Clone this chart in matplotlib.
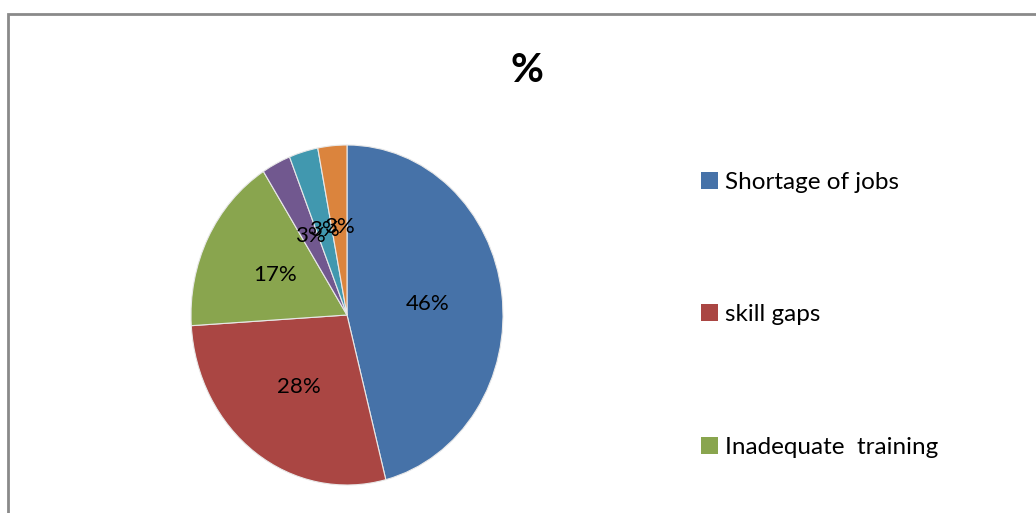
import matplotlib
matplotlib.use('Agg')
import matplotlib.pyplot as plt
from matplotlib.patches import Rectangle, Patch

plt.rcParams['font.family'] = ['Lato', 'DejaVu Sans']

# Causes of unemployment, share of respondents (%)
categories = ['Shortage of jobs', 'skill gaps', 'Inadequate  training', '', '', '']
shares = [46, 28, 17, 3, 3, 3]
colors = ['#4672A8', '#AA4643', '#89A54E', '#71588F', '#4198AF', '#DB843D']
legend_count = 3  # entries that fit in the legend area

W, H = 1036, 513
fig = plt.figure(figsize=(W / 100, H / 100), dpi=100)

# chart area frame, runs off the right and bottom edges
fig.add_artist(Rectangle((7.5 / W, -0.1), 1.2, (H - 13.5) / H + 0.1,
                         transform=fig.transFigure, fill=False,
                         edgecolor='#8A8A8A', linewidth=2))

# plot area is taller than wide, so the pie comes out slightly oval
ax = fig.add_axes([191 / W, (H - 485) / H, 312 / W, 340 / H])
wedges, texts, autotexts = ax.pie(
    shares, colors=colors, startangle=90, counterclock=False,
    autopct='%.0f%%', pctdistance=0.52,
    wedgeprops=dict(edgecolor='#E8E8E8', linewidth=0.8),
    textprops=dict(fontsize=16, color='black'))
ax.set_aspect('auto')
ax.set_xlim(-1, 1)
ax.set_ylim(-1, 1)
ax.axis('off')

fig.text(527 / W, 1 - 71 / H, '%', ha='center', va='center',
         fontsize=29, fontweight='bold')

handles = [Patch(facecolor=colors[i], edgecolor='none') for i in range(legend_count)]
fig.legend(handles, categories[:legend_count], loc='upper left',
           bbox_to_anchor=(701 / W, 1 - 172 / H), frameon=False,
           fontsize=17.5, handlelength=0.7, handleheight=0.7,
           handletextpad=0.3, labelspacing=4.58, borderaxespad=0,
           borderpad=0)

fig.savefig('out.png', dpi=100)
